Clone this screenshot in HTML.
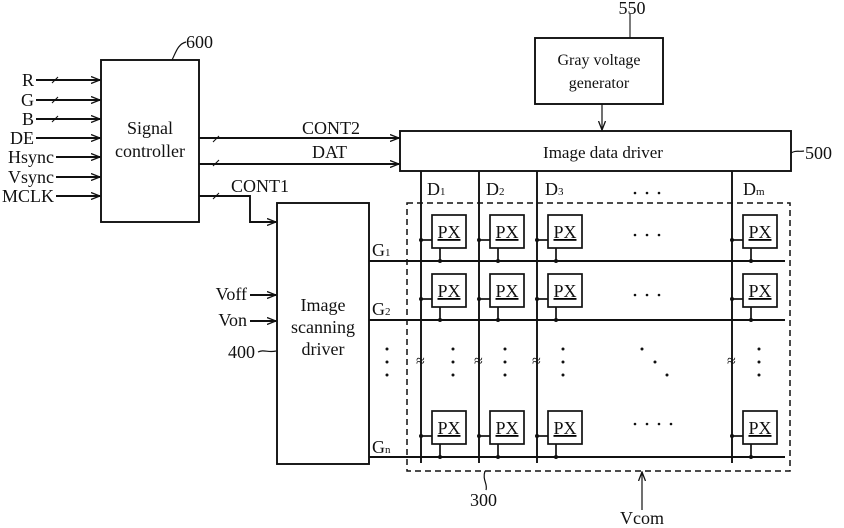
<!DOCTYPE html>
<html><head><style>
body{margin:0;background:#fff;}
svg{display:block;}
text{font-family:"Liberation Serif",serif;fill:#111;}
</style></head><body>
<svg width="844" height="528" viewBox="0 0 844 528" xmlns="http://www.w3.org/2000/svg">
<defs>
<marker id="a" markerWidth="10" markerHeight="8" refX="9" refY="4" orient="auto" markerUnits="userSpaceOnUse">
<path d="M0,0.5 L9,4 L0,7.5" fill="none" stroke="#111" stroke-width="1.3"/>
</marker>
</defs>
<g stroke="#111" stroke-width="1.9" fill="none">
<rect x="101" y="60" width="98" height="162"/>
<path d="M172,60 C176,52 178,44 186,42" stroke-width="1.2"/>
<line x1="36" y1="80" x2="100" y2="80" marker-end="url(#a)"/>
<line x1="36" y1="100" x2="100" y2="100" marker-end="url(#a)"/>
<line x1="36" y1="119" x2="100" y2="119" marker-end="url(#a)"/>
<line x1="36" y1="138" x2="100" y2="138" marker-end="url(#a)"/>
<line x1="56" y1="157" x2="100" y2="157" marker-end="url(#a)"/>
<line x1="56" y1="177" x2="100" y2="177" marker-end="url(#a)"/>
<line x1="56" y1="196" x2="100" y2="196" marker-end="url(#a)"/>
<g stroke-width="1.1"><line x1="52" y1="83" x2="58" y2="77"/><line x1="52" y1="103" x2="58" y2="97"/><line x1="52" y1="122" x2="58" y2="116"/>
<line x1="213" y1="142" x2="219" y2="136"/><line x1="213" y1="166" x2="219" y2="160"/><line x1="213" y1="199" x2="219" y2="193"/></g>
<line x1="199" y1="138" x2="399" y2="138" marker-end="url(#a)"/>
<line x1="199" y1="164" x2="399" y2="164" marker-end="url(#a)"/>
<polyline points="199,196 250,196 250,222 276,222" marker-end="url(#a)"/>
<rect x="535" y="38" width="128" height="66"/>
<line x1="630" y1="14" x2="630" y2="38" stroke-width="1.1"/>
<line x1="602" y1="104" x2="602" y2="130" stroke-width="1.2" marker-end="url(#a)"/>
<rect x="400" y="131" width="391" height="40"/>
<path d="M791,153 C796,150 798,152 804,151" stroke-width="1.2"/>
<rect x="277" y="203" width="92" height="261"/>
<line x1="250" y1="295" x2="276" y2="295" marker-end="url(#a)"/>
<line x1="250" y1="321" x2="276" y2="321" marker-end="url(#a)"/>
<path d="M258,352 C264,349 268,353 276,351" stroke-width="1.2"/>
<rect x="407" y="203" width="383" height="268" stroke-dasharray="6,4" stroke-width="1.5"/>
<path d="M485,471 C482,480 488,484 486,490" stroke-width="1.2"/>
<line x1="642" y1="510" x2="642" y2="472" stroke-width="1.2" marker-end="url(#a)"/>
<line x1="421" y1="171" x2="421" y2="463"/>
<line x1="479" y1="171" x2="479" y2="463"/>
<line x1="537" y1="171" x2="537" y2="463"/>
<line x1="732" y1="171" x2="732" y2="463"/>
<line x1="369" y1="261" x2="785" y2="261"/>
<line x1="369" y1="320" x2="785" y2="320"/>
<line x1="369" y1="457" x2="785" y2="457"/>
</g>
<g stroke="#111" stroke-width="1.7" fill="#fff">
<g id="px">
<line x1="421" y1="240" x2="432" y2="240"/>
<line x1="440" y1="248" x2="440" y2="261"/>
<rect x="432" y="215" width="34" height="33"/>
</g>
<use href="#px" x="58"/><use href="#px" x="116"/><use href="#px" x="311"/>
<use href="#px" y="59"/><use href="#px" x="58" y="59"/><use href="#px" x="116" y="59"/><use href="#px" x="311" y="59"/>
<use href="#px" y="196"/><use href="#px" x="58" y="196"/><use href="#px" x="116" y="196"/><use href="#px" x="311" y="196"/>
</g>
<g fill="#111">
<circle cx="421" cy="240" r="2"/><circle cx="479" cy="240" r="2"/><circle cx="537" cy="240" r="2"/><circle cx="732" cy="240" r="2"/>
<circle cx="421" cy="299" r="2"/><circle cx="479" cy="299" r="2"/><circle cx="537" cy="299" r="2"/><circle cx="732" cy="299" r="2"/>
<circle cx="421" cy="436" r="2"/><circle cx="479" cy="436" r="2"/><circle cx="537" cy="436" r="2"/><circle cx="732" cy="436" r="2"/>
<circle cx="440" cy="261" r="2"/><circle cx="498" cy="261" r="2"/><circle cx="556" cy="261" r="2"/><circle cx="751" cy="261" r="2"/>
<circle cx="440" cy="320" r="2"/><circle cx="498" cy="320" r="2"/><circle cx="556" cy="320" r="2"/><circle cx="751" cy="320" r="2"/>
<circle cx="440" cy="457" r="2"/><circle cx="498" cy="457" r="2"/><circle cx="556" cy="457" r="2"/><circle cx="751" cy="457" r="2"/>
<g id="vd"><circle cx="387" cy="349" r="1.5"/><circle cx="387" cy="362" r="1.5"/><circle cx="387" cy="375" r="1.5"/></g>
<use href="#vd" x="66"/><use href="#vd" x="118"/><use href="#vd" x="176"/><use href="#vd" x="372"/>
<circle cx="642" cy="349" r="1.5"/><circle cx="655" cy="362" r="1.5"/><circle cx="667" cy="375" r="1.5"/>
<circle cx="635" cy="193" r="1.3"/><circle cx="647" cy="193" r="1.3"/><circle cx="659" cy="193" r="1.3"/>
<circle cx="635" cy="235" r="1.3"/><circle cx="647" cy="235" r="1.3"/><circle cx="659" cy="235" r="1.3"/>
<circle cx="635" cy="295" r="1.3"/><circle cx="647" cy="295" r="1.3"/><circle cx="659" cy="295" r="1.3"/>
<circle cx="635" cy="424" r="1.3"/><circle cx="647" cy="424" r="1.3"/><circle cx="659" cy="424" r="1.3"/><circle cx="671" cy="424" r="1.3"/>
</g>
<g font-size="16">
<text x="416" y="366">≈</text><text x="474" y="366">≈</text><text x="532" y="366">≈</text><text x="727" y="366">≈</text>
</g>
<g font-size="18" text-anchor="middle" text-decoration="underline">
<text x="449" y="238">PX</text><text x="507" y="238">PX</text><text x="565" y="238">PX</text><text x="760" y="238">PX</text>
<text x="449" y="297">PX</text><text x="507" y="297">PX</text><text x="565" y="297">PX</text><text x="760" y="297">PX</text>
<text x="449" y="434">PX</text><text x="507" y="434">PX</text><text x="565" y="434">PX</text><text x="760" y="434">PX</text>
</g>
<g font-size="18">
<text x="34" y="86" text-anchor="end">R</text>
<text x="34" y="106" text-anchor="end">G</text>
<text x="34" y="125" text-anchor="end">B</text>
<text x="34" y="144" text-anchor="end">DE</text>
<text x="54" y="163" text-anchor="end">Hsync</text>
<text x="54" y="183" text-anchor="end">Vsync</text>
<text x="54" y="202" text-anchor="end">MCLK</text>
<text x="150" y="134" text-anchor="middle">Signal</text>
<text x="150" y="157" text-anchor="middle">controller</text>
<text x="186" y="48">600</text>
<text x="302" y="134">CONT2</text>
<text x="312" y="158">DAT</text>
<text x="231" y="192">CONT1</text>
<text x="632" y="14" text-anchor="middle">550</text>
<text x="599" y="65" text-anchor="middle" font-family="Liberation Mono" font-size="16">Gray voltage</text>
<text x="599" y="88" text-anchor="middle" font-family="Liberation Mono" font-size="16">generator</text>
<text x="603" y="158" text-anchor="middle" font-family="Liberation Mono" font-size="17">Image data driver</text>
<text x="805" y="159">500</text>
<text x="323" y="311" text-anchor="middle">Image</text>
<text x="323" y="333" text-anchor="middle">scanning</text>
<text x="323" y="355" text-anchor="middle">driver</text>
<text x="247" y="300" text-anchor="end">Voff</text>
<text x="247" y="326" text-anchor="end">Von</text>
<text x="255" y="358" text-anchor="end">400</text>
<text x="372" y="256">G<tspan font-size="11">1</tspan></text>
<text x="372" y="315">G<tspan font-size="11">2</tspan></text>
<text x="372" y="453">G<tspan font-size="11">n</tspan></text>
<text x="427" y="195">D<tspan font-size="11">1</tspan></text>
<text x="486" y="195">D<tspan font-size="11">2</tspan></text>
<text x="545" y="195">D<tspan font-size="11">3</tspan></text>
<text x="743" y="195">D<tspan font-size="11">m</tspan></text>
<text x="470" y="506">300</text>
<text x="620" y="524">Vcom</text>
</g>
</svg>
</body></html>
